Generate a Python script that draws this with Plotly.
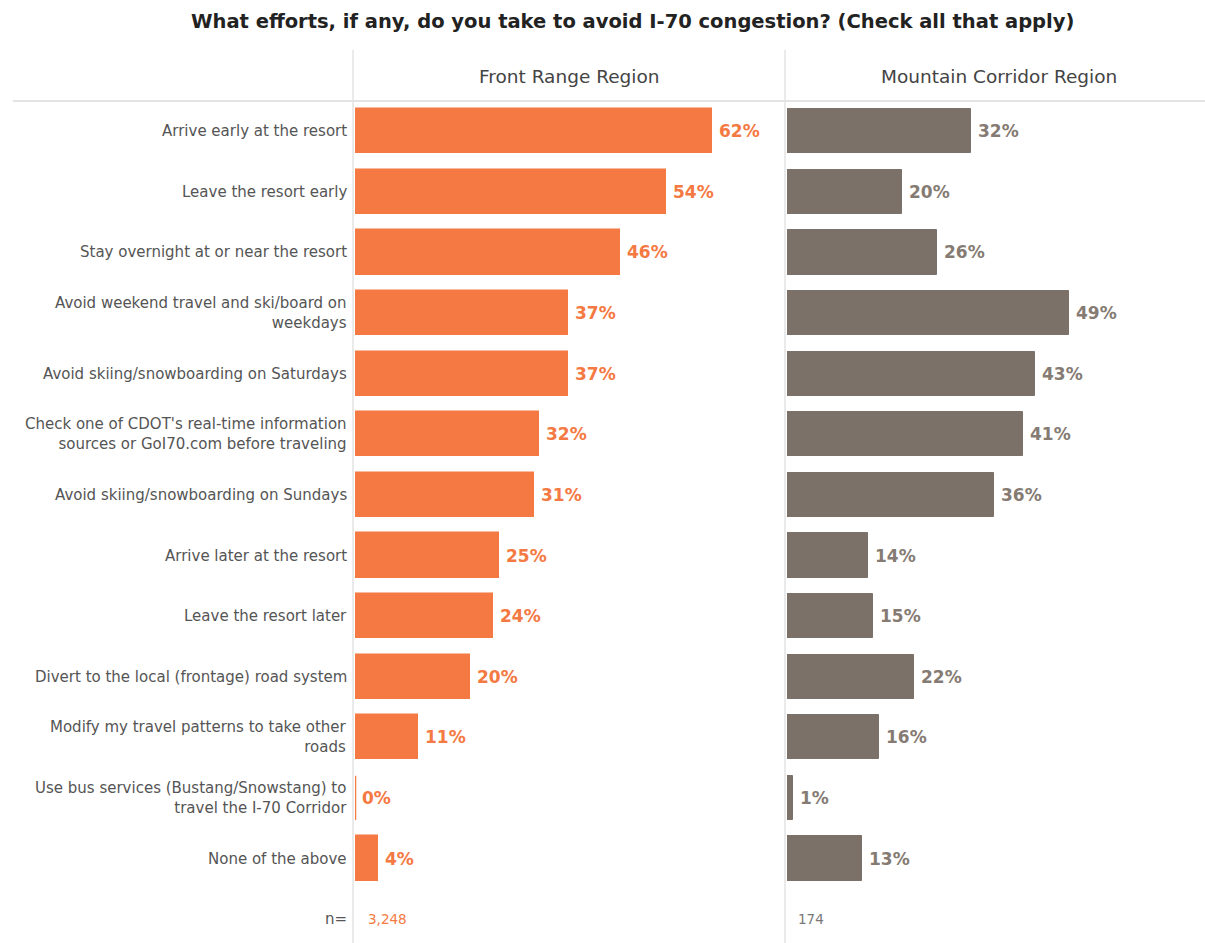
import plotly.graph_objects as go

W, H = 1205, 943

title = "What efforts, if any, do you take to avoid I-70 congestion? (Check all that apply)"
regions = ["Front Range Region", "Mountain Corridor Region"]
efforts = [
    "Arrive early at the resort",
    "Leave the resort early",
    "Stay overnight at or near the resort",
    "Avoid weekend travel and ski/board on<br>weekdays",
    "Avoid skiing/snowboarding on Saturdays",
    "Check one of CDOT's real-time information<br>sources or GoI70.com before traveling",
    "Avoid skiing/snowboarding on Sundays",
    "Arrive later at the resort",
    "Leave the resort later",
    "Divert to the local (frontage) road system",
    "Modify my travel patterns to take other<br>roads",
    "Use bus services (Bustang/Snowstang) to<br>travel the I-70 Corridor",
    "None of the above",
]
front_range = [62, 54, 46, 37, 37, 32, 31, 25, 24, 20, 11, 0, 4]
mountain_corridor = [32, 20, 26, 49, 43, 41, 36, 14, 15, 22, 16, 1, 13]
sample_sizes = ["3,248", "174"]

ORANGE = "#F47942"
TAUPE = "#7B7168"
TAUPE_TEXT = "#857B73"
TEXT = "#555555"
GRID = "#E3E3E3"
FONT = "DejaVu Sans"

PX_PER_PCT = 5.76
TOP = 101            # pixel row of the header rule
ROW = 60.6           # pixel pitch between rows
BAR_W = 0.73
n_rows = len(efforts)

def px_x(p):
    return p / W

def px_y(p):
    return 1 - p / H

x1_left, x1_right = 355, 783
x2_left, x2_right = 787, W
y_rows = list(range(n_rows))
y_top = -0.5
y_bottom = y_top + (H - TOP) / ROW

fig = go.Figure()

fig.add_trace(go.Bar(
    y=y_rows, x=front_range, orientation="h",
    marker=dict(color=ORANGE, line=dict(color=ORANGE, width=1.5)),
    width=BAR_W, cliponaxis=False, xaxis="x", yaxis="y", showlegend=False,
))
fig.add_trace(go.Bar(
    y=y_rows, x=mountain_corridor, orientation="h",
    marker=dict(color=TAUPE, line=dict(color=TAUPE, width=1)),
    width=BAR_W, cliponaxis=False, xaxis="x2", yaxis="y", showlegend=False,
))

annotations = [
    dict(text=f"<b>{title}</b>", x=px_x(632), y=px_y(21), xref="paper", yref="paper",
         showarrow=False, xanchor="center", yanchor="middle",
         font=dict(family=FONT, size=19.5, color="#222222")),
    dict(text=regions[0], x=px_x(569), y=px_y(76), xref="paper", yref="paper",
         showarrow=False, xanchor="center", yanchor="middle",
         font=dict(family=FONT, size=18.5, color="#444444")),
    dict(text=regions[1], x=px_x(999), y=px_y(76), xref="paper", yref="paper",
         showarrow=False, xanchor="center", yanchor="middle",
         font=dict(family=FONT, size=18.5, color="#444444")),
]

# category labels
for i, label in enumerate(efforts):
    annotations.append(dict(
        text=label, x=px_x(349), y=i, xref="paper", yref="y",
        showarrow=False, xanchor="right", yanchor="middle", align="right",
        font=dict(family=FONT, size=15, color=TEXT),
    ))

# value labels at the end of each bar
for vals, xr, col in ((front_range, "x", ORANGE), (mountain_corridor, "x2", TAUPE_TEXT)):
    for i, v in enumerate(vals):
        annotations.append(dict(
            text=f"<b>{v}%</b>", x=v, y=i, xref=xr, yref="y",
            showarrow=False, xanchor="left", yanchor="middle", xshift=5,
            font=dict(family=FONT, size=17, color=col),
        ))

n_row = n_rows
annotations += [
    dict(text="n=", x=px_x(349), y=n_row, xref="paper", yref="y", showarrow=False,
         xanchor="right", yanchor="middle", font=dict(family=FONT, size=15, color=TEXT)),
    dict(text=sample_sizes[0], x=px_x(366), y=n_row, xref="paper", yref="y", showarrow=False,
         xanchor="left", yanchor="middle", font=dict(family=FONT, size=13.5, color=ORANGE)),
    dict(text=sample_sizes[1], x=px_x(796), y=n_row, xref="paper", yref="y", showarrow=False,
         xanchor="left", yanchor="middle", font=dict(family=FONT, size=13.5, color="#777777")),
]

shapes = [
    dict(type="line", xref="paper", yref="paper", x0=px_x(13), x1=1,
         y0=px_y(TOP), y1=px_y(TOP), line=dict(color=GRID, width=2)),
    dict(type="line", xref="paper", yref="paper", x0=px_x(353), x1=px_x(353),
         y0=px_y(50), y1=0, line=dict(color=GRID, width=1.5)),
    dict(type="line", xref="paper", yref="paper", x0=px_x(785), x1=px_x(785),
         y0=px_y(50), y1=0, line=dict(color=GRID, width=1.5)),
]

# zero-valued bars are still shown as a thin sliver at the baseline
for vals, xr, col in ((front_range, "x", ORANGE), (mountain_corridor, "x2", TAUPE)):
    for i, v in enumerate(vals):
        if v == 0:
            shapes.append(dict(type="line", xref=xr, yref="y", x0=v, x1=v,
                               y0=i - BAR_W / 2, y1=i + BAR_W / 2,
                               line=dict(color=col, width=2.5)))

fig.update_layout(
    width=W, height=H,
    margin=dict(l=0, r=0, t=0, b=0),
    paper_bgcolor="white", plot_bgcolor="white",
    bargap=0,
    xaxis=dict(domain=[px_x(x1_left), px_x(x1_right)], range=[0, (x1_right - x1_left) / PX_PER_PCT],
               visible=False, fixedrange=True),
    xaxis2=dict(domain=[px_x(x2_left), px_x(x2_right)], range=[0, (x2_right - x2_left) / PX_PER_PCT],
                visible=False, anchor="y", fixedrange=True),
    yaxis=dict(domain=[0, px_y(TOP)], range=[y_bottom, y_top], visible=False, fixedrange=True),
    annotations=annotations,
    shapes=shapes,
    font=dict(family=FONT),
)

fig.write_html("out.html")
